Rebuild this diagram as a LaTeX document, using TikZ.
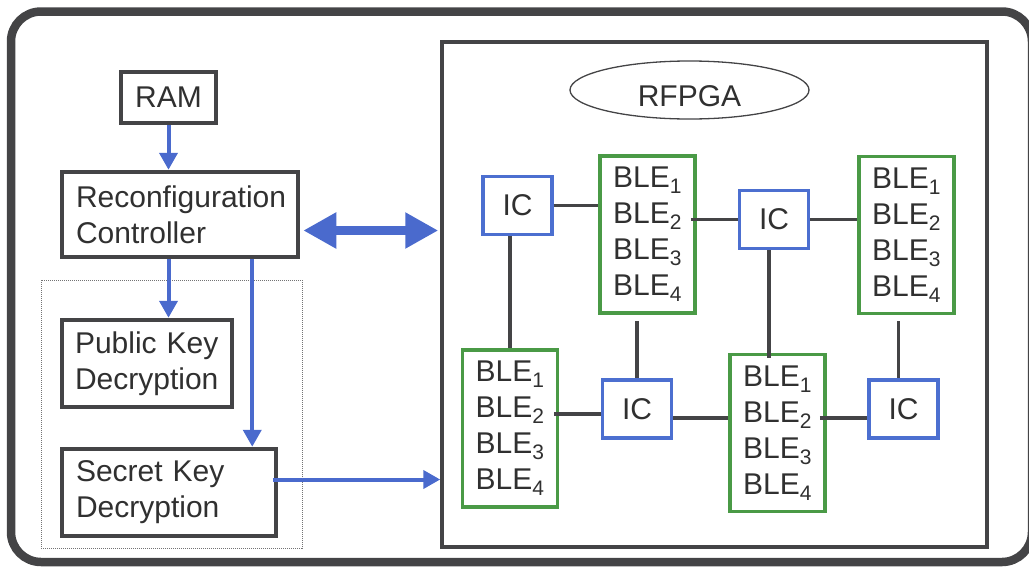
\documentclass[tikz,border=0pt]{standalone}
\usepackage{fontspec}
\setmainfont{Liberation Sans}
\usetikzlibrary{arrows.meta,calc,shapes.geometric}

\definecolor{frame}{HTML}{444446}
\definecolor{ink}{HTML}{303030}
\definecolor{icblue}{HTML}{4C6FD0}
\definecolor{flowblue}{HTML}{4A6ACD}
\definecolor{blegreen}{HTML}{4A9A46}

\tikzset{
  every node/.style={font=\fontsize{30}{36}\selectfont, text=ink},
  box/.style={draw=frame, line width=4.5pt, inner sep=0pt, align=left},
  icbox/.style={draw=icblue, line width=3.8pt, minimum width=69pt, minimum height=58pt, inner sep=0pt},
  blebox/.style={draw=blegreen, line width=3.8pt, minimum width=95pt, minimum height=157pt, inner sep=0pt, align=left},
  wire/.style={draw=frame, line width=3.6pt},
  flow/.style={draw=flowblue, line width=4pt, -{Triangle[width=18pt,length=17pt]}},
  bus/.style={draw=flowblue, line width=9pt, {Triangle[width=34pt,length=33pt]}-{Triangle[width=34pt,length=33pt]}},
}
\newcommand{\bles}{BLE\textsubscript{1}\\BLE\textsubscript{2}\\BLE\textsubscript{3}\\BLE\textsubscript{4}}

\begin{document}
\begin{tikzpicture}[x=1pt,y=-1pt]
    \useasboundingbox (0,0) rectangle (1029,568);
    \draw[frame, line width=8.5pt, rounded corners=30pt] (11,11.5) rectangle (1032,562);

    % host side
    \node[draw=frame!75, line width=1pt, densely dotted, minimum width=261pt, minimum height=268pt] (grp) at (171.5,414) {};
    \node[box, minimum width=95pt, minimum height=51pt, align=center] (ram) at (168.5,97.5) {RAM};
    \node[box, minimum width=236pt, minimum height=85pt, text width=208pt] (rc) at ($(ram)+(11.5,117)$) {Reconfiguration\\Controller};
    \node[box, minimum width=170pt, minimum height=87pt, text width=144pt] (pkd) at ($(rc)+(-33,149)$) {Public Key\\Decryption};
    \node[box, minimum width=214pt, minimum height=87pt, text width=186pt] (skd) at ($(pkd)+(22,129)$) {Secret Key\\Decryption};

    % fabric
    \node[draw=frame, line width=3.5pt, minimum width=545pt, minimum height=505pt] (fpga) at (714.5,294.5) {};
    \node[draw=frame, line width=1.3pt, ellipse, minimum width=239pt, minimum height=58pt, inner sep=0pt, text height=32pt, text depth=0pt] (rfpga) at (689.5,90) {RFPGA};
    \node[icbox] (ic1) at (517.5,205.5) {IC};
    \node[blebox] (b1) at ($(ic1)+(130,29)$) {\bles};
    \node[icbox] (ic2) at ($(b1)+(126.5,-15)$) {IC};
    \node[blebox] (b2) at ($(ic2)+(132.5,15.5)$) {\bles};
    \node[blebox] (b3) at ($(ic1)+(-7.5,223)$) {\bles};
    \node[icbox] (ic3) at ($(b3)+(127,-19.5)$) {IC};
    \node[blebox] (b4) at ($(ic3)+(140.5,24)$) {\bles};
    \node[icbox] (ic4) at ($(b4)+(126,-24)$) {IC};

    \draw[wire] (ic1.east) -- (ic1.east -| b1.west);
    \draw[wire] ($(ic2.west -| b1.east)+(-6,0)$) -- (ic2.west);
    \draw[wire] (ic2.east) -- (ic2.east -| b2.west);
    \draw[wire] (ic1.south -| b3.north) -- (b3.north);
    \draw[wire] ($(ic3.north |- b1.south)+(0,6)$) -- (ic3.north);
    \draw[wire] ($(ic2.south)+(-5,0)$) -- ($(ic2.south |- b4.north)+(-5,5)$);
    \draw[wire] ($(ic4.north |- b2.south)+(-5,6)$) -- ($(ic4.north)+(-5,0)$);
    \draw[wire] ($(ic3.west -| b3.east)+(-5,5)$) -- ($(ic3.west)+(0,5)$);
    \draw[wire] ($(ic3.east)+(0,9)$) -- ($(ic3.east -| b4.west)+(0,9)$);
    \draw[wire] ($(ic4.west -| b4.east)+(-7,9)$) -- ($(ic4.west)+(0,9)$);

    \draw[flow] (ram.south) -- (ram.south |- rc.north);
    \draw[flow] (rc.south -| ram.south) -- (pkd.north -| ram.south);
    \draw[flow] ($(rc.south -| skd.north east)+(-26,0)$) -- ($(skd.north east)+(-26,0)$);
    \draw[flow] ($(skd.east)+(-5,-13)$) -- ($(skd.east -| fpga.west)+(0,-13)$);
    \draw[bus] ($(rc.east)+(3,16)$) -- ($(rc.east -| fpga.west)+(-2,16)$);
\end{tikzpicture}
\end{document}
